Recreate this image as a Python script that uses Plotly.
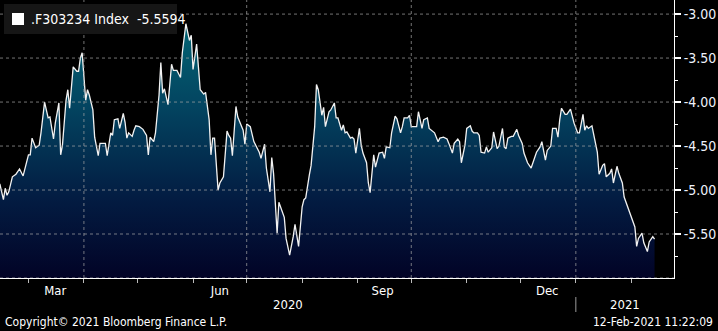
import plotly.graph_objects as go
import pandas as pd

# ---------------- data ----------------
dates_2020 = [
    "02-14","02-16","02-17","02-18","02-19","02-21","02-23","02-25","02-27","02-29",
    "03-01","03-02","03-03","03-05","03-07","03-08","03-10","03-12","03-13","03-15",
    "03-16","03-18","03-19","03-20","03-22","03-23","03-24","03-26","03-28","03-29",
    "03-30","03-31","04-02","04-03","04-04","04-06","04-07","04-09","04-10","04-13",
    "04-14","04-16","04-17","04-18","04-20","04-21","04-23","04-24","04-25","04-26",
    "04-28","04-29","04-30","05-02","05-04","05-06","05-07","05-08","05-10","05-11",
    "05-13","05-14","05-15","05-16","05-18","05-20","05-21","05-23","05-25","05-26",
    "05-28","05-30","05-31","06-01","06-03","06-04","06-05","06-07","06-08","06-10",
    "06-11","06-12","06-13","06-15","06-16","06-18","06-20","06-21","06-22","06-23",
    "06-25","06-26","06-29","06-30","07-01","07-03","07-05","07-08","07-09","07-11",
    "07-12","07-14","07-15","07-16","07-18","07-19","07-22","07-23","07-25","07-27",
    "07-28","07-30","08-01","08-02","08-03","08-05","08-06","08-08","08-09","08-10",
    "08-12","08-13","08-14","08-16","08-17","08-19","08-20","08-21","08-23","08-24",
    "08-25","08-26","08-28","08-29","08-30","08-31","09-02","09-03","09-04","09-06",
    "09-07","09-08","09-10","09-11","09-13","09-15","09-16","09-17","09-19","09-20",
    "09-22","09-23","09-25","09-26","09-27","09-29","09-30","10-01","10-03","10-04",
    "10-05","10-07","10-08","10-10","10-11","10-13","10-14","10-16","10-17","10-19",
    "10-21","10-22","10-24","10-25","10-27","10-28","10-29","10-31","11-01","11-03",
    "11-04","11-05","11-07","11-08","11-09","11-11","11-12","11-13","11-15","11-16",
    "11-18","11-19","11-21","11-22","11-23","11-24","11-26","11-27","11-29","11-30",
    "12-02","12-03","12-05","12-07","12-08","12-10","12-12","12-13","12-15","12-16",
    "12-18","12-19","12-21","12-22","12-23","12-24","12-26","12-27","12-29","12-30",
    "12-31",
]
dates_2021 = [
    "01-02","01-03","01-05","01-06","01-07","01-08","01-10","01-11","01-13",
    "01-14","01-16","01-17","01-18","01-20","01-21","01-22","01-24","01-25","01-27",
    "01-28","01-30","01-31","02-01","02-03","02-04","02-05","02-07","02-08","02-10",
    "02-11","02-13","02-14",
]
values = [
    -4.93,-5.11,-4.98,-5.06,-5.02,-4.85,-4.82,-4.76,-4.84,-4.69,
    -4.60,-4.60,-4.41,-4.52,-4.49,-4.35,-4.00,-4.18,-4.17,-4.42,
    -4.24,-4.01,-4.60,-4.49,-3.98,-3.86,-4.07,-3.60,-3.65,-3.65,
    -3.50,-3.44,-3.98,-3.86,-3.92,-4.09,-4.40,-4.61,-4.47,-4.47,
    -4.61,-4.35,-4.38,-4.20,-4.19,-4.30,-4.13,-4.23,-4.41,-4.35,
    -4.39,-4.32,-4.27,-4.28,-4.31,-4.38,-4.60,-4.40,-4.45,-4.35,
    -3.92,-3.55,-3.90,-3.85,-4.03,-3.57,-3.64,-3.64,-3.72,-3.44,
    -3.11,-3.30,-3.24,-3.63,-3.34,-3.60,-3.86,-3.91,-3.89,-4.20,
    -4.60,-4.41,-4.41,-5.00,-4.92,-4.85,-4.33,-4.38,-4.41,-4.61,
    -4.05,-4.17,-4.32,-4.48,-4.25,-4.28,-4.45,-4.57,-4.64,-4.48,
    -4.75,-5.02,-4.63,-4.81,-5.49,-5.14,-5.31,-5.55,-5.74,-5.53,
    -5.39,-5.64,-5.19,-5.11,-5.09,-4.83,-4.72,-4.28,-3.80,-3.86,
    -4.15,-4.06,-4.28,-4.11,-4.09,-4.01,-4.18,-4.18,-4.32,-4.26,
    -4.35,-4.34,-4.41,-4.40,-4.42,-4.58,-4.30,-4.49,-4.58,-4.69,
    -4.92,-5.03,-4.60,-4.74,-4.58,-4.57,-4.64,-4.51,-4.52,-4.35,
    -4.16,-4.19,-4.35,-4.28,-4.18,-4.18,-4.15,-4.28,-4.28,-4.28,
    -4.11,-4.30,-4.20,-4.18,-4.30,-4.34,-4.35,-4.45,-4.41,-4.40,
    -4.42,-4.47,-4.58,-4.47,-4.42,-4.45,-4.69,-4.49,-4.30,-4.27,
    -4.33,-4.35,-4.35,-4.38,-4.57,-4.58,-4.51,-4.57,-4.52,-4.34,
    -4.53,-4.50,-4.30,-4.51,-4.53,-4.41,-4.39,-4.39,-4.31,-4.38,
    -4.47,-4.58,-4.69,-4.75,-4.69,-4.57,-4.51,-4.45,-4.66,-4.55,
    -4.50,-4.30,-4.30,-4.40,-4.20,-4.07,-4.14,-4.14,-4.08,-4.17,
    -4.24,-4.35,-4.35,-4.14,-4.32,-4.27,-4.30,-4.27,-4.38,-4.57,
    -4.82,-4.72,-4.70,-4.85,-4.81,-4.76,-4.92,-4.73,-4.81,-4.92,
    -5.08,-5.20,-5.26,-5.32,-5.42,-5.64,-5.55,-5.49,-5.60,-5.70,
    -5.59,-5.53,-5.5594,
]
dates = ["2020-" + d for d in dates_2020] + ["2021-" + d for d in dates_2021]
assert len(dates) == len(values)

series_name = ".F303234 Index"
y_ticks = [-3.0, -3.5, -4.0, -4.5, -5.0, -5.5]
y_grid = [-3.0, -3.5, -4.0, -4.5, -5.0, -5.5, -6.0]
y_minor = [-3.25, -3.75, -4.25, -4.75, -5.25, -5.75]
month_starts = ["2020-03-01","2020-04-01","2020-05-01","2020-06-01","2020-07-01",
                "2020-08-01","2020-09-01","2020-10-01","2020-11-01","2020-12-01",
                "2021-01-01","2021-02-01"]
month_label_pos = ["2020-03-16","2020-06-16","2020-09-15","2020-12-16"]
month_labels = ["Mar","Jun","Sep","Dec"]
quarter_grid = ["2020-04-01","2020-07-01","2020-10-01","2021-01-01"]
x_range = ["2020-02-14 02:00", "2021-02-24 21:00"]
y_range = [-6.0, -2.84]
year_break = "2021-01-01"

# ---------------- figure ----------------
fig = go.Figure()
# baseline for the area fill (below visible range)
fig.add_trace(go.Scatter(x=[dates[0], dates[-1]], y=[-7, -7], mode="lines",
                         line=dict(width=0), hoverinfo="skip", showlegend=False))
fig.add_trace(go.Scatter(
    x=dates, y=values, mode="lines", name=series_name,
    line=dict(color="#f2f2f2", width=1.3),
    fill="tonexty",
    fillgradient=dict(type="vertical", start=-6.0, stop=-3.0,
                      colorscale=[[0, "rgb(2,3,38)"], [0.3, "rgb(3,28,66)"],
                                  [0.65, "rgb(3,68,96)"], [1, "rgb(3,104,118)"]]),
    showlegend=False,
))

PW, PH = 674.0, 278.0  # plot area size in px
grid_line = dict(color="rgba(165,165,165,0.7)", width=1, dash="dot")

shapes = []
for yv in y_grid:
    shapes.append(dict(type="line", xref="paper", x0=0, x1=1, yref="y", y0=yv, y1=yv,
                       line=grid_line, layer="above"))
for xv in quarter_grid:
    shapes.append(dict(type="line", xref="x", x0=xv, x1=xv, yref="paper", y0=0, y1=1,
                       line=grid_line, layer="above"))
# year separator below the axis
shapes.append(dict(type="line", xref="x", x0=year_break, x1=year_break, yref="paper",
                   y0=-19/PH, y1=-34/PH, line=dict(color="#9a9a9a", width=1)))
# legend box + swatch
shapes.append(dict(type="rect", xref="paper", yref="paper",
                   x0=4/PW, x1=177/PW, y0=1-34/PH, y1=1-4/PH,
                   fillcolor="#161616", line=dict(width=0), layer="above"))
shapes.append(dict(type="rect", xref="paper", yref="paper",
                   x0=12/PW, x1=24/PW, y0=1-25/PH, y1=1-13/PH,
                   fillcolor="#ffffff", line=dict(width=0), layer="above"))

t0 = pd.Timestamp(x_range[0]); t1 = pd.Timestamp(x_range[1]); tb = pd.Timestamp(year_break)
mid2020 = t0 + (tb - t0) / 2
mid2021 = tb + (t1 - tb) / 2

font_main = "Liberation Sans Narrow, DejaVu Sans Condensed, Arial Narrow, Liberation Sans, sans-serif"

annotations = [
    dict(xref="paper", yref="paper", x=29/PW, y=1-19/PH, xanchor="left", yanchor="middle",
         text=f"{series_name}  {values[-1]:.4f}", showarrow=False,
         font=dict(color="#ffffff", size=14, family=font_main)),
    dict(xref="x", yref="paper", x=mid2020, y=-26/PH, text="2020", showarrow=False,
         xanchor="center", yanchor="middle", font=dict(color="#ffffff", size=13, family=font_main)),
    dict(xref="x", yref="paper", x=mid2021, y=-26/PH, text="2021", showarrow=False,
         xanchor="center", yanchor="middle", font=dict(color="#ffffff", size=13, family=font_main)),
    dict(xref="paper", yref="paper", x=3/PW, y=-44/PH, text="Copyright© 2021 Bloomberg Finance L.P.",
         showarrow=False, xanchor="left", yanchor="middle",
         font=dict(color="#ffffff", size=12, family=font_main)),
    dict(xref="paper", yref="paper", x=715/PW, y=-44/PH, text="12-Feb-2021 11:22:09",
         showarrow=False, xanchor="right", yanchor="middle",
         font=dict(color="#ffffff", size=12, family=font_main)),
]

fig.update_layout(
    width=718, height=331,
    margin=dict(l=0, r=44, t=0, b=53),
    paper_bgcolor="#000000", plot_bgcolor="#000000",
    showlegend=False,
    shapes=shapes, annotations=annotations,
    xaxis=dict(
        type="date", range=x_range, showgrid=False, zeroline=False,
        tickmode="array", tickvals=month_label_pos, ticktext=month_labels, ticks="",
        tickfont=dict(color="#ffffff", size=13, family=font_main),
        showline=True, linecolor="#ffffff", linewidth=1,
        minor=dict(tickmode="array", tickvals=month_starts, ticks="outside", ticklen=4,
                   tickcolor="#bbbbbb", tickwidth=1, showgrid=False),
    ),
    yaxis=dict(
        side="right", range=y_range, showgrid=False, zeroline=False,
        tickmode="array", tickvals=y_ticks, ticktext=[f"{v:.2f}" for v in y_ticks],
        ticks="outside", ticklen=6, tickwidth=2, tickcolor="#ffffff",
        tickfont=dict(color="#eef2fa", size=14, family=font_main),
        showline=True, linecolor="#ffffff", linewidth=1,
        minor=dict(tickmode="array", tickvals=y_minor, ticks="outside", ticklen=3,
                   tickcolor="#ffffff", tickwidth=1, showgrid=False),
    ),
)

fig.write_html("out.html", config={"displayModeBar": False},
               post_script="document.body.style.margin='0px';document.body.style.background='#000';")
